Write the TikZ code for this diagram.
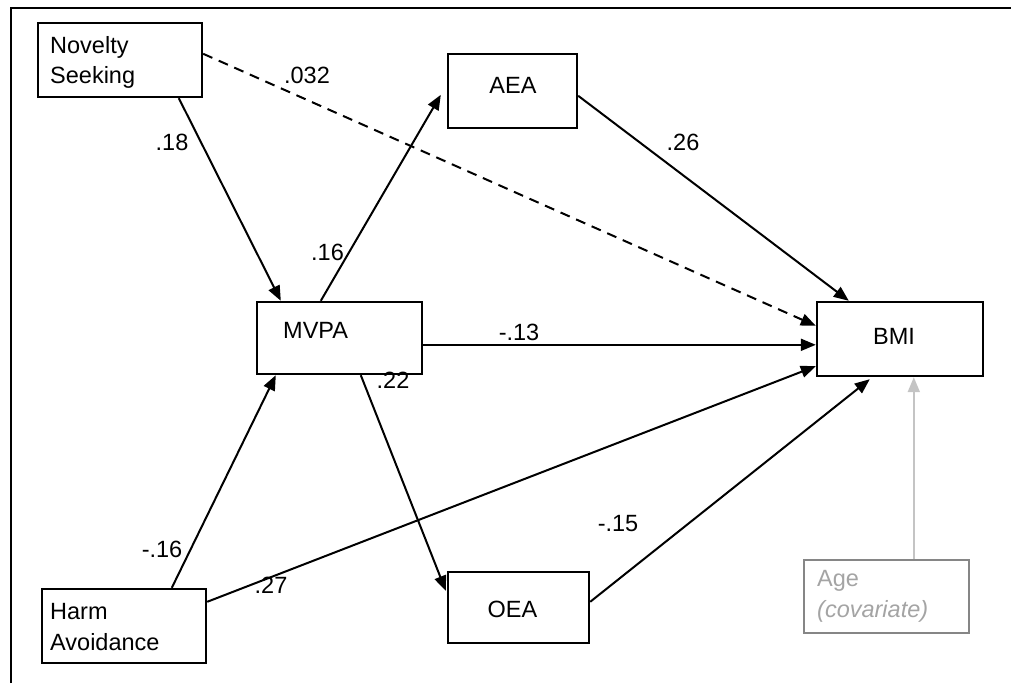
\documentclass[tikz,border=0pt]{standalone}
\usepackage{fontspec}
\setmainfont{Liberation Sans}
\usetikzlibrary{arrows.meta}
\definecolor{agebox}{HTML}{868686}
\definecolor{agetext}{HTML}{A4A4A4}
\definecolor{agearrow}{HTML}{C4C4C4}
\begin{document}
\begin{tikzpicture}[x=1pt,y=-1pt,
  box/.style={draw, line width=2.4pt, inner sep=0pt, rectangle},
  lbl/.style={inner sep=0pt, font=\fontsize{23.5}{28}\selectfont},
  arr/.style={line width=2pt, -{Triangle[length=15pt,width=12pt]}},
  dsh/.style={arr, dash pattern=on 10pt off 7pt}]
\useasboundingbox (0,0) rectangle (1011,683);
% frame
\draw[line width=2pt] (11,683) -- (11,8) -- (1011,8);
% boxes
\node[box, minimum width=164pt, minimum height=74pt] (ns) at (120,60) {};
\node[box, minimum width=129pt, minimum height=74pt] (aea) at (512.5,91) {};
\node[box, minimum width=165pt, minimum height=72pt] (mvpa) at (339.5,338) {};
\node[box, minimum width=166pt, minimum height=74pt] (bmi) at (900,339) {};
\node[box, minimum width=164pt, minimum height=74pt] (ha) at (124,626) {};
\node[box, minimum width=141pt, minimum height=71pt] (oea) at (518.5,607.5) {};
\node[box, draw=agebox, minimum width=165pt, minimum height=73pt] (age) at (886.5,596.5) {};
% box texts
\node[lbl, anchor=base west] (nst1) at (50,53) {Novelty};
\node[lbl, anchor=base west] (nst2) at (50,83) {Seeking};
\node[lbl, anchor=base] (aeat) at (513,93.5) {AEA};
\node[lbl, anchor=base west] (mvpat) at (283,338) {MVPA};
\node[lbl, anchor=base] (bmit) at (894,344) {BMI};
\node[lbl, anchor=base west] (hat1) at (50,619) {Harm};
\node[lbl, anchor=base west] (hat2) at (50,650) {Avoidance};
\node[lbl, anchor=base] (oeat) at (512.5,617) {OEA};
\node[lbl, anchor=base west, text=agetext] (aget1) at (817,586) {Age};
\node[lbl, anchor=base west, text=agetext] (aget2) at (817,617) {\itshape (covariate)};
% connectors
\draw[arr] ([xshift=142pt]ns.south west) -- ([xshift=25pt]mvpa.north west);
\draw[dsh] ([yshift=-32pt]ns.north east) -- ([yshift=-25pt]bmi.north west);
\draw[arr] ([xshift=65pt]mvpa.north west) -- ([xshift=-6pt,yshift=-42pt]aea.north west);
\draw[arr] ([yshift=-43pt]aea.north east) -- ([xshift=33pt]bmi.north west);
\draw[arr] ([yshift=-44pt]mvpa.north east) -- ([yshift=-44pt]bmi.north west);
\draw[arr] ([xshift=105pt]mvpa.south west) -- ([xshift=-1pt,yshift=-20pt]oea.north west);
\draw[arr] ([xshift=131pt]ha.north west) -- ([xshift=20pt]mvpa.south west);
\draw[arr] ([yshift=-14pt]ha.north east) -- ([yshift=11pt]bmi.south west);
\draw[arr] ([yshift=-31pt]oea.north east) -- ([xshift=54pt,yshift=-2pt]bmi.south west);
\draw[arr, draw=agearrow, -{Triangle[length=15pt,width=12pt,fill=agearrow]}] ([xshift=111pt]age.north west) -- ([xshift=98pt]bmi.south west);
% edge labels
\node[lbl, anchor=base] (l1) at (307,83) {.032};
\node[lbl, anchor=base] (l2) at (172,150) {.18};
\node[lbl, anchor=base] (l3) at (327.5,260) {.16};
\node[lbl, anchor=base] (l4) at (683,150) {.26};
\node[lbl, anchor=base] (l5) at (519,340) {-.13};
\node[lbl, anchor=base] (l6) at (393,388) {.22};
\node[lbl, anchor=base] (l7) at (162,557) {-.16};
\node[lbl, anchor=base] (l8) at (271,593) {.27};
\node[lbl, anchor=base] (l9) at (618,531) {-.15};
\end{tikzpicture}
\end{document}
